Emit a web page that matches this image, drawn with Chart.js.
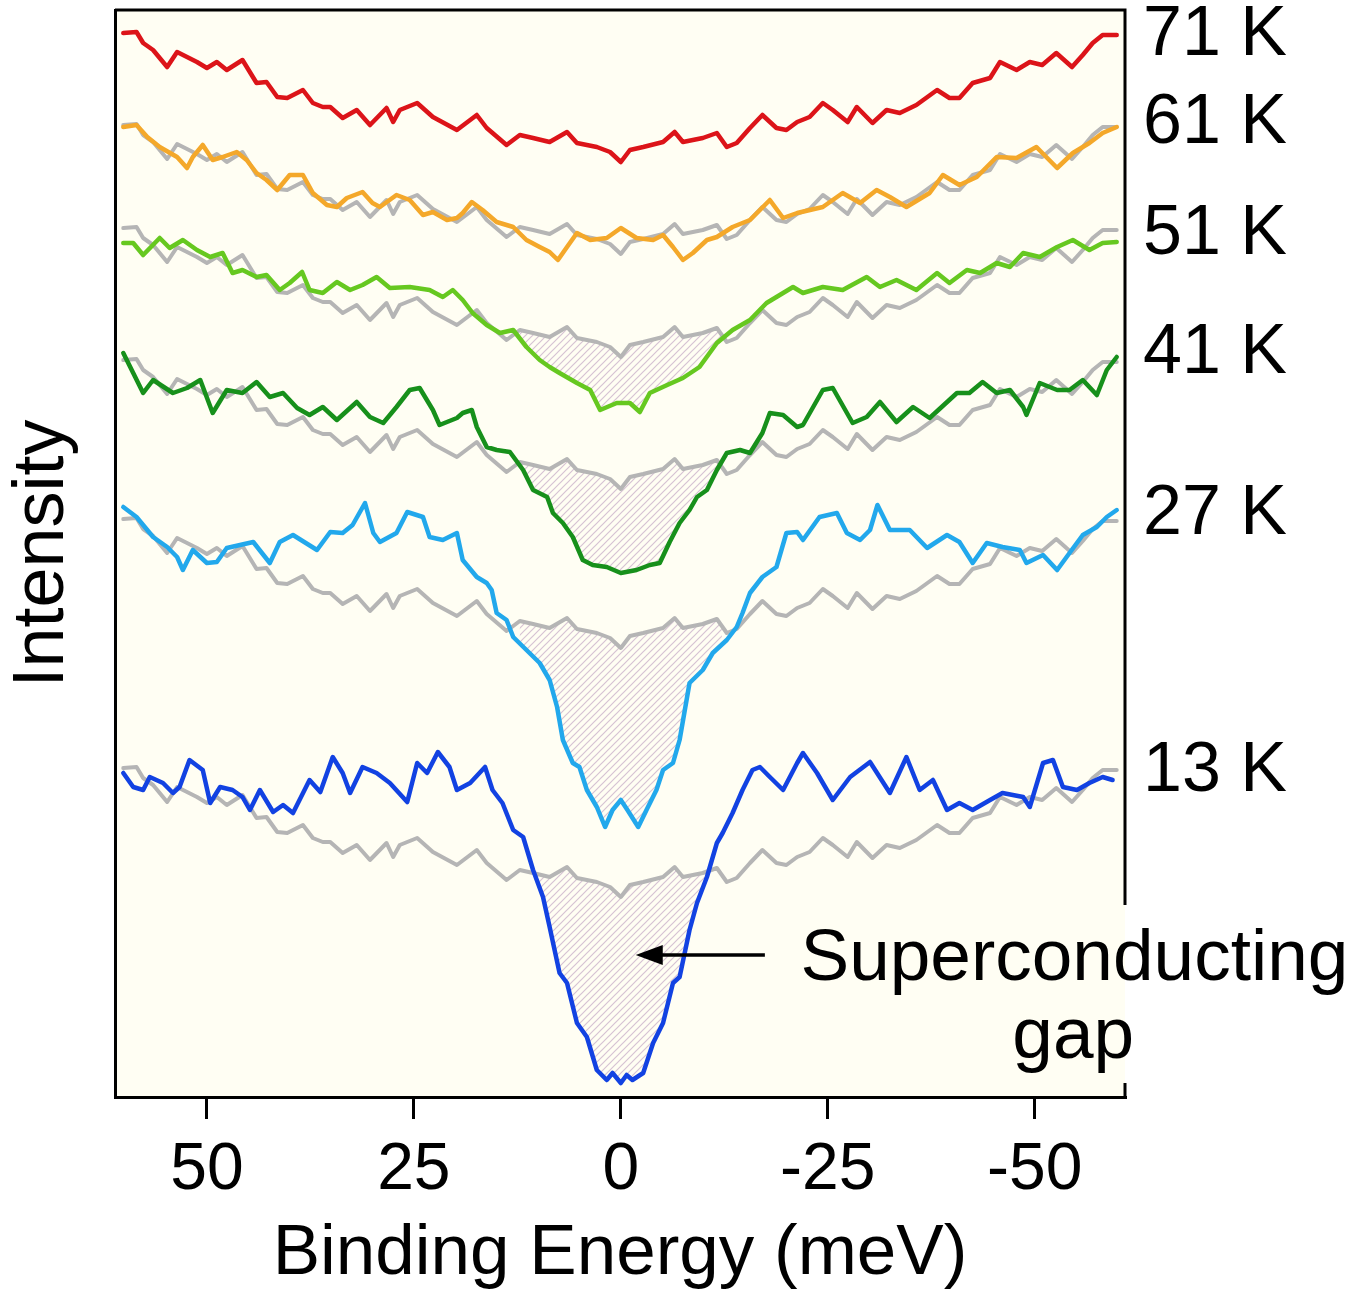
<!DOCTYPE html>
<html>
<head>
<meta charset="utf-8">
<title>Superconducting gap</title>
<script src="https://cdn.jsdelivr.net/npm/chart.js@4.4.0/dist/chart.umd.min.js"></script>
<style>
  body { margin: 0; background: #fff; }
  canvas { display: block; }
</style>
</head>
<body>
<canvas id="myChart" width="1369" height="1299"></canvas>
<script>
// spectra, [binding energy (meV), intensity (a.u., curves already offset)]
var t71 = [[60.1,1064],[58.5,1065],[57.7,1054],[56.5,1047],[54.8,1030],[53.6,1045],[52.4,1040],[51.2,1035],[50.0,1029],[48.8,1035],[47.6,1027],[45.7,1037],[44.0,1014],[42.8,1015],[41.5,1000],[40.3,999],[38.4,1007],[37.2,994],[36.0,990],[35.1,990],[33.6,979],[31.9,987],[30.3,972],[28.3,989],[27.5,975],[26.7,987],[24.6,994],[22.7,980],[19.8,967],[17.4,982],[16.2,969],[13.8,952],[12.2,962],[10.6,959],[8.6,955],[6.5,965],[5.3,954],[2.9,950],[1.3,945],[0,935],[-1.1,947],[-2.7,950],[-5.1,955],[-6.5,965],[-7.5,955],[-9.9,959],[-11.6,964],[-12.8,950],[-14.0,954],[-15.6,969],[-17.1,982],[-18.8,969],[-20.0,967],[-21.3,975],[-22.8,980],[-24.4,994],[-25.6,987],[-27.4,975],[-28.5,990],[-30.4,974],[-32.1,987],[-33.7,984],[-35.7,992],[-38.2,1007],[-39.7,999],[-40.9,999],[-42.5,1014],[-44.6,1019],[-45.8,1035],[-47.8,1027],[-49.4,1035],[-50.9,1032],[-52.6,1044],[-54.5,1030],[-55.8,1042],[-57.0,1054],[-58.2,1062],[-59.9,1062]];

var t61 = [[60.1,970],[58.5,972],[57.2,960],[55.7,950],[53.6,940],[52.4,929],[51.7,940],[50.5,952],[49.3,937],[48.1,940],[46.4,945],[45.2,937],[44.0,924],[42.8,917],[41.5,907],[40.0,922],[38.4,922],[37.2,904],[35.5,892],[34.3,890],[33.1,899],[31.2,905],[30.0,894],[29.1,890],[27.1,902],[25.5,897],[23.9,882],[22.7,885],[21.0,877],[19.8,879],[19.1,884],[18.0,895],[16.7,887],[15.0,875],[13.0,870],[11.4,857],[9.8,850],[8.6,845],[7.6,837],[6.5,850],[5.3,864],[3.7,857],[1.7,859],[0,869],[-1.9,859],[-3.9,857],[-5.1,862],[-6.3,850],[-7.5,837],[-8.7,844],[-10.4,857],[-11.6,860],[-13.5,870],[-15.6,877],[-18.0,897],[-19.6,879],[-21.3,884],[-24.4,890],[-26.8,904],[-28.9,894],[-30.9,907],[-32.5,900],[-34.5,890],[-37.3,904],[-38.9,922],[-40.9,912],[-43.0,920],[-45.4,940],[-47.8,939],[-50.2,950],[-52.7,929],[-54.6,944],[-56.6,954],[-58.2,964],[-59.9,970]];

var t51 = [[60.1,854],[58.9,854],[57.7,842],[55.7,859],[54.5,849],[52.9,857],[51.2,847],[49.6,840],[48.1,844],[46.9,824],[45.7,827],[44.0,820],[42.8,822],[41.2,807],[40.0,814],[38.5,825],[37.6,807],[36.0,804],[34.3,815],[32.7,807],[31.2,812],[29.5,820],[27.9,809],[25.5,810],[23.1,807],[21.5,800],[20.3,807],[19.1,797],[17.9,784],[16.2,772],[14.6,764],[13.0,767],[11.4,750],[9.8,737],[8.6,730],[7.4,724],[5.3,714],[3.7,707],[2.5,687],[0.5,694],[-1.1,694],[-2.3,685],[-3.5,704],[-5.6,712],[-7.5,719],[-9.5,730],[-11.6,754],[-13.5,767],[-15.6,777],[-17.6,794],[-19.6,804],[-20.8,810],[-22.0,804],[-24.4,810],[-26.8,807],[-29.7,820],[-31.3,810],[-33.3,817],[-35.7,807],[-38.2,824],[-39.7,814],[-41.8,827],[-43.4,824],[-45.4,834],[-47.0,830],[-48.6,844],[-50.6,840],[-52.7,850],[-54.6,857],[-56.6,847],[-58.2,854],[-59.9,855]];

var t41 = [[60.1,744],[58.9,724],[57.7,704],[56.5,717],[54.1,704],[52.4,709],[50.8,717],[49.3,684],[47.6,707],[45.7,704],[44.0,715],[42.4,700],[40.8,704],[39.1,689],[37.6,682],[36.0,690],[34.3,677],[31.9,695],[30.3,680],[28.7,674],[27.1,690],[25.5,707],[24.3,709],[22.7,687],[21.9,672],[19.8,679],[19.1,684],[18.0,687],[17.4,670],[16.2,650],[15.0,647],[13.4,645],[11.8,627],[10.6,607],[8.9,600],[8.2,584],[7.0,574],[5.8,560],[4.6,537],[3.4,532],[1.7,530],[0,524],[-1.9,527],[-3.5,532],[-4.7,534],[-5.9,555],[-7.1,574],[-8.3,587],[-9.2,600],[-10.4,607],[-11.6,627],[-12.8,644],[-14.4,647],[-15.6,644],[-17.1,664],[-18.0,684],[-19.6,682],[-21.3,670],[-22.0,672],[-24.4,707],[-25.6,709],[-28.0,674],[-29.7,680],[-31.3,695],[-33.3,675],[-35.3,690],[-37.3,679],[-40.6,704],[-42.1,704],[-43.7,715],[-45.4,704],[-47.0,707],[-48.6,690],[-49.0,682],[-50.6,714],[-52.7,707],[-54.2,707],[-55.8,717],[-57.5,702],[-58.7,727],[-59.9,740]];

var t27 = [[60.1,590],[58.5,580],[56.5,560],[54.8,550],[53.6,540],[52.9,527],[51.7,547],[50.0,534],[48.8,535],[47.6,549],[46.0,552],[44.4,555],[42.4,534],[41.2,555],[39.6,562],[36.7,547],[35.1,565],[33.6,564],[32.4,572],[30.9,594],[29.9,564],[29.1,555],[27.1,564],[25.8,585],[23.9,580],[23.1,560],[21.5,557],[19.8,564],[19.1,537],[17.4,520],[16.2,514],[15.6,507],[15.0,484],[13.8,477],[13.0,460],[11.4,447],[9.8,434],[8.6,417],[7.7,390],[7.0,357],[5.8,334],[5.0,330],[4.1,307],[2.9,290],[1.9,270],[1.0,287],[0,297],[-0.8,287],[-2.1,270],[-3.1,287],[-4.3,307],[-5.1,327],[-6.3,334],[-7.1,357],[-8.3,414],[-9.9,427],[-11.1,444],[-12.8,457],[-14.0,470],[-14.7,484],[-15.6,504],[-17.1,520],[-18.8,530],[-20.0,564],[-21.3,565],[-22.0,557],[-24.0,580],[-26.1,584],[-27.3,564],[-28.9,557],[-30.1,567],[-31.0,592],[-32.5,567],[-34.9,567],[-37.0,549],[-39.4,562],[-40.9,555],[-42.5,534],[-44.2,554],[-46.1,550],[-48.2,547],[-49.0,534],[-51.0,542],[-52.7,527],[-54.2,544],[-55.8,562],[-57.5,570],[-58.7,580],[-59.9,587]];

var t13 = [[60.1,324],[58.9,310],[57.7,307],[56.9,320],[55.3,314],[54.1,304],[53.3,310],[52.1,337],[50.5,327],[49.6,294],[48.4,310],[46.9,307],[45.7,300],[44.8,287],[43.6,307],[42.0,285],[40.8,292],[39.6,284],[37.6,317],[36.3,305],[34.8,340],[33.6,324],[32.7,304],[31.2,330],[29.5,324],[27.9,314],[25.8,295],[24.6,334],[23.4,324],[22.1,345],[20.7,330],[19.8,307],[18.2,314],[16.4,330],[15.5,307],[14.3,294],[13.0,267],[11.8,260],[10.6,227],[9.4,200],[8.6,170],[7.4,124],[6.5,114],[5.3,74],[4.1,60],[2.9,27],[1.7,17],[1.0,24],[0,14],[-0.7,22],[-1.4,17],[-2.7,24],[-3.9,54],[-5.1,74],[-6.3,114],[-7.1,120],[-8.3,167],[-9.2,194],[-10.4,220],[-11.6,254],[-12.3,264],[-13.5,284],[-14.7,307],[-15.9,327],[-16.8,330],[-18.0,320],[-19.6,307],[-21.3,334],[-22.0,344],[-23.7,324],[-25.6,297],[-27.7,320],[-30.1,335],[-32.5,304],[-34.5,340],[-36.1,307],[-37.7,317],[-39.4,287],[-40.9,294],[-42.5,287],[-44.6,297],[-46.1,304],[-48.6,300],[-49.4,290],[-51.0,334],[-52.2,337],[-53.4,310],[-55.1,307],[-56.6,314],[-58.2,320],[-59.4,317]];

var temps = ['71 K', '61 K', '51 K', '41 K', '27 K', '13 K'];
var spectra = [t71, t61, t51, t41, t27, t13];
var colors = ['#dc1419', '#f4a82a', '#66c820', '#17901b', '#22a8ec', '#1242e2'];
// 71 K spectrum drawn in gray under 61, 51, 41, 27, 13 K, shifted down by:
var grayShift = [92, 195, 327, 486, 735];
// height of the temperature labels at the right
var labelLevel = [1061, 973, 862, 743, 582, 325];
var xTicks = [50, 25, 0, -25, -50];
var gapEdge = 12.2;   // hatch only inside +-gapEdge meV

var FONT = "'Liberation Sans', Arial, Helvetica, sans-serif";

function toXY(arr, shift) {
    return arr.map(function(p) { return {x: p[0], y: p[1] - (shift || 0)}; });
}

var datasets = [];
for (var i = 0; i < spectra.length; i++) {
    datasets.push({
        label: temps[i],
        data: toXY(spectra[i]),
        borderColor: colors[i],
        borderWidth: 4.5,
        pointRadius: 0,
        fill: false
    });
}
for (var j = 0; j < grayShift.length; j++) {
    datasets.push({
        label: temps[j + 1] + ' ref',
        data: toXY(t71, grayShift[j]),
        borderColor: '#b5b5b5',
        borderWidth: 4,
        pointRadius: 0,
        fill: false
    });
}

function hatchPattern(ctx) {
    var c = document.createElement('canvas');
    c.width = 7; c.height = 7;
    var g = c.getContext('2d');
    g.strokeStyle = '#d6c3d3';
    g.lineWidth = 1.2;
    g.beginPath();
    g.moveTo(-1, 8); g.lineTo(8, -1);
    g.moveTo(-1, 1); g.lineTo(1, -1);
    g.moveTo(6, 8); g.lineTo(8, 6);
    g.stroke();
    return ctx.createPattern(c, 'repeat');
}

var framePlugin = {
    id: 'framePlugin',
    beforeDraw: function(chart) {
        var a = chart.chartArea, ctx = chart.ctx;
        ctx.save();
        ctx.fillStyle = '#fffef3';
        ctx.fillRect(a.left, a.top, a.right - a.left, a.bottom - a.top);
        ctx.restore();
    },
    beforeDatasetsDraw: function(chart) {
        var a = chart.chartArea, ctx = chart.ctx, xs = chart.scales.x;
        var pat = hatchPattern(ctx);
        // gap area: 51, 41, 27, 13 K below their gray reference
        for (var k = 2; k < spectra.length; k++) {
            var cp = chart.getDatasetMeta(k).data;
            var gp = chart.getDatasetMeta(spectra.length + k - 1).data;
            var x1 = xs.getPixelForValue(gapEdge), x2 = xs.getPixelForValue(-gapEdge);
            ctx.save();
            ctx.beginPath();
            ctx.rect(x1, a.top, x2 - x1, a.bottom - a.top);
            ctx.clip();
            ctx.beginPath();
            gp.forEach(function(p, n) { if (n) ctx.lineTo(p.x, p.y); else ctx.moveTo(p.x, p.y); });
            ctx.lineTo(gp[gp.length - 1].x, a.bottom);
            ctx.lineTo(gp[0].x, a.bottom);
            ctx.closePath();
            ctx.clip();
            ctx.beginPath();
            cp.forEach(function(p, n) { if (n) ctx.lineTo(p.x, p.y); else ctx.moveTo(p.x, p.y); });
            ctx.lineTo(cp[cp.length - 1].x, a.top);
            ctx.lineTo(cp[0].x, a.top);
            ctx.closePath();
            ctx.fillStyle = pat;
            ctx.fill();
            ctx.restore();
        }
    },
    afterDraw: function(chart) {
        var a = chart.chartArea, ctx = chart.ctx;
        var xs = chart.scales.x, ys = chart.scales.y;
        ctx.save();
        // top and right frame, right side open where the text sits
        ctx.strokeStyle = '#000';
        ctx.lineWidth = 3;
        ctx.beginPath();
        ctx.moveTo(a.left, a.top);
        ctx.lineTo(a.right, a.top);
        ctx.lineTo(a.right, ys.getPixelForValue(192));
        ctx.moveTo(a.right, ys.getPixelForValue(14));
        ctx.lineTo(a.right, a.bottom);
        ctx.stroke();

        // temperature labels
        ctx.fillStyle = '#000';
        ctx.font = '70px ' + FONT;
        ctx.textAlign = 'left';
        ctx.textBaseline = 'middle';
        for (var i = 0; i < temps.length; i++) {
            ctx.fillText(temps[i], a.right + 18, ys.getPixelForValue(labelLevel[i]));
        }

        // arrow
        var ay = ys.getPixelForValue(142);
        var tip = xs.getPixelForValue(-1.8), tail = xs.getPixelForValue(-17.4);
        ctx.lineWidth = 3.5;
        ctx.beginPath();
        ctx.moveTo(tail, ay);
        ctx.lineTo(tip + 20, ay);
        ctx.stroke();
        ctx.beginPath();
        ctx.moveTo(tip, ay);
        ctx.lineTo(tip + 27, ay - 10);
        ctx.lineTo(tip + 27, ay + 10);
        ctx.closePath();
        ctx.fill();

        ctx.font = '73px ' + FONT;
        ctx.textBaseline = 'alphabetic';
        ctx.fillText('Superconducting', xs.getPixelForValue(-21.7), ys.getPixelForValue(117));
        ctx.textAlign = 'right';
        ctx.fillText('gap', xs.getPixelForValue(-62.0), ys.getPixelForValue(39));
        ctx.restore();
    }
};

new Chart(document.getElementById('myChart'), {
    type: 'line',
    data: { datasets: datasets },
    options: {
        responsive: false,
        animation: false,
        layout: { padding: { left: 0, top: 10, right: 244, bottom: 0 } },
        plugins: {
            legend: { display: false },
            tooltip: { enabled: false }
        },
        elements: { line: { tension: 0, borderJoinStyle: 'round', borderCapStyle: 'round' } },
        scales: {
            x: {
                type: 'linear',
                reverse: true,
                min: -60.9,
                max: 61.1,
                afterBuildTicks: function(s) { s.ticks = xTicks.map(function(v) { return {value: v}; }); },
                afterFit: function(s) { s.height = 202; },
                ticks: { font: { family: FONT, size: 66 }, color: '#000', padding: 12, maxRotation: 0, autoSkip: false },
                grid: { drawOnChartArea: false, drawTicks: true, tickLength: 22, color: '#000', lineWidth: 3 },
                border: { display: true, color: '#000', width: 3 },
                title: { display: true, text: 'Binding Energy (meV)', color: '#000',
                         font: { family: FONT, size: 71 }, padding: { top: 0, bottom: 2 } }
            },
            y: {
                min: 0,
                max: 1087,
                afterFit: function(s) { s.width = 115; },
                ticks: { display: false },
                grid: { display: false, drawTicks: false },
                border: { display: true, color: '#000', width: 3 },
                title: { display: true, text: 'Intensity', color: '#000',
                         font: { family: FONT, size: 72 }, padding: 0 }
            }
        }
    },
    plugins: [framePlugin]
});
</script>
</body>
</html>
